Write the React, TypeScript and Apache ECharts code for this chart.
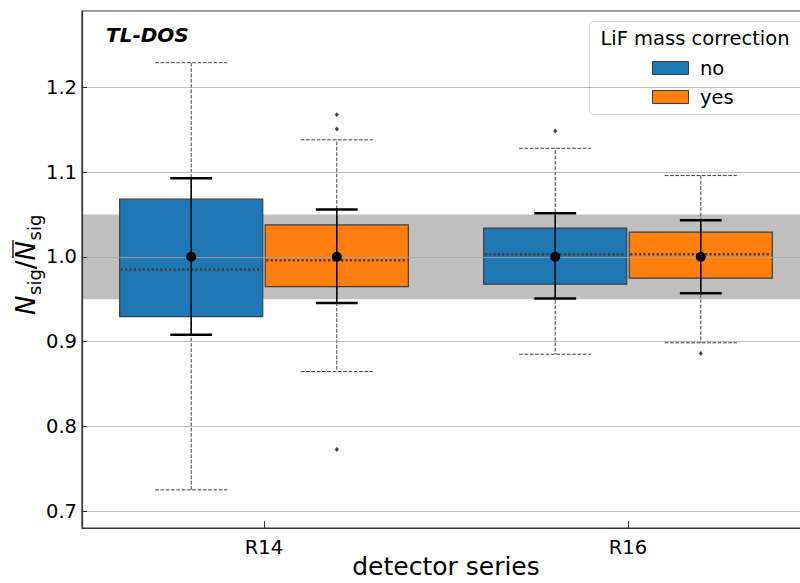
import React, { useEffect, useRef } from "react";
import * as echarts from "echarts";

// ---- data ----
const CATEGORIES = ["R14", "R16"];
const GROUPS = ["no", "yes"];
const GROUP_COLORS = ["#1f77b4", "#ff7f0e"];
// [lowerWhisker, q1, median, q3, upperWhisker]
const NO_BOX = [
  [0.725, 0.9295, 0.985, 1.068, 1.229],
  [0.885, 0.9677, 1.003, 1.0337, 1.128],
];
const YES_BOX = [
  [0.8646, 0.9649, 0.996, 1.0376, 1.138],
  [0.8985, 0.9748, 1.003, 1.029, 1.0958],
];
const NO_MEAN = [1.0, 1.0];
const NO_ERR_LOW = [0.908, 0.9507];
const NO_ERR_HIGH = [1.0927, 1.0514];
const YES_MEAN = [1.0, 1.0];
const YES_ERR_LOW = [0.9456, 0.957];
const YES_ERR_HIGH = [1.0557, 1.0432];
// [categoryIndex, value]
const NO_OUTLIERS = [[1, 1.1485]];
const YES_OUTLIERS = [
  [0, 1.1677],
  [0, 1.1508],
  [0, 0.7727],
  [1, 0.886],
];
const BAND = [0.95, 1.05];
const Y_MIN = 0.68;
const Y_MAX = 1.29;

// ---- layout (fractions of the category band) ----
const OFFSET = 0.2;
const BOX_W = 0.393;
const CAP_W = 0.198;
const ERR_CAP_W = 0.115;

const FONT = "DejaVu Sans";
const EDGE = "#3f3f3f";

function boxSeries(gi: number, boxes: number[][]) {
  return {
    type: "custom",
    name: GROUPS[gi],
    z: 2,
    data: boxes.map((b, ci) => [ci, ...b]),
    encode: { x: 0, y: [1, 2, 3, 4, 5] },
    renderItem: (params: any, api: any) => {
      const ci = api.value(0);
      const band = api.size([1, 0])[0];
      const cx = api.coord([ci, 1])[0] + (gi === 0 ? -1 : 1) * OFFSET * band;
      const y = (v: number) => api.coord([ci, v])[1];
      const lo = api.value(1), q1 = api.value(2), med = api.value(3), q3 = api.value(4), hi = api.value(5);
      const hw = (BOX_W * band) / 2;
      const cw = (CAP_W * band) / 2;
      const dash = { stroke: EDGE, lineWidth: 1, lineDash: [3.7, 1.6] };
      return {
        type: "group",
        children: [
          { type: "line", shape: { x1: cx, y1: y(q3), x2: cx, y2: y(hi) }, style: dash },
          { type: "line", shape: { x1: cx, y1: y(q1), x2: cx, y2: y(lo) }, style: dash },
          { type: "line", shape: { x1: cx - cw, y1: y(hi), x2: cx + cw, y2: y(hi) }, style: dash },
          { type: "line", shape: { x1: cx - cw, y1: y(lo), x2: cx + cw, y2: y(lo) }, style: dash },
          {
            type: "rect",
            shape: { x: cx - hw, y: y(q3), width: 2 * hw, height: y(q1) - y(q3) },
            style: { fill: GROUP_COLORS[gi], stroke: EDGE, lineWidth: 1.2 },
          },
          {
            type: "line",
            shape: { x1: cx - hw + 1, y1: y(med), x2: cx + hw - 1, y2: y(med) },
            style: { stroke: EDGE, lineWidth: 2.6, lineDash: [2.2, 2.2] },
          },
        ],
      };
    },
  };
}

function outlierSeries(gi: number, pts: number[][]) {
  return {
    type: "custom",
    name: GROUPS[gi] + "-outliers",
    z: 2,
    data: pts,
    encode: { x: 0, y: 1 },
    renderItem: (params: any, api: any) => {
      const ci = api.value(0);
      const band = api.size([1, 0])[0];
      const c = api.coord([ci, api.value(1)]);
      const cx = c[0] + (gi === 0 ? -1 : 1) * OFFSET * band;
      const cy = c[1];
      const s = 2.2;
      return {
        type: "polygon",
        shape: { points: [[cx, cy - s], [cx + s * 0.8, cy], [cx, cy + s], [cx - s * 0.8, cy]] },
        style: { fill: EDGE, stroke: EDGE, lineWidth: 0.5 },
      };
    },
  };
}

function meanSeries(gi: number, means: number[], lows: number[], highs: number[]) {
  return {
    type: "custom",
    name: GROUPS[gi] + "-mean",
    z: 5,
    data: means.map((m, ci) => [ci, m, lows[ci], highs[ci]]),
    encode: { x: 0, y: [1, 2, 3] },
    renderItem: (params: any, api: any) => {
      const ci = api.value(0);
      const band = api.size([1, 0])[0];
      const cx = api.coord([ci, 1])[0] + (gi === 0 ? -1 : 1) * OFFSET * band;
      const y = (v: number) => api.coord([ci, v])[1];
      const m = api.value(1), lo = api.value(2), hi = api.value(3);
      const ew = (ERR_CAP_W * band) / 2;
      return {
        type: "group",
        children: [
          { type: "line", shape: { x1: cx, y1: y(lo), x2: cx, y2: y(hi) }, style: { stroke: "#000", lineWidth: 1.5 } },
          { type: "line", shape: { x1: cx - ew, y1: y(lo), x2: cx + ew, y2: y(lo) }, style: { stroke: "#000", lineWidth: 2.5 } },
          { type: "line", shape: { x1: cx - ew, y1: y(hi), x2: cx + ew, y2: y(hi) }, style: { stroke: "#000", lineWidth: 2.5 } },
          { type: "circle", shape: { cx, cy: y(m), r: 5 }, style: { fill: "#000" } },
        ],
      };
    },
  };
}

const bandSeries = {
  type: "custom",
  name: "band",
  z: 1,
  silent: true,
  data: [[0, BAND[0], BAND[1]]],
  encode: { x: 0, y: [1, 2] },
  renderItem: (params: any, api: any) => {
    const cs = params.coordSys;
    const y1 = api.coord([0, api.value(2)])[1];
    const y0 = api.coord([0, api.value(1)])[1];
    return {
      type: "rect",
      shape: { x: cs.x, y: y1, width: cs.width, height: y0 - y1 },
      style: { fill: "#bfbfbf" },
    };
  },
};

function txt(text: string, x: number, y: number, extra: any = {}) {
  const { align = "left", verticalAlign = "middle", ...rest } = extra;
  return {
    type: "text",
    x,
    y,
    style: {
      text,
      fill: "#000",
      fontFamily: FONT,
      fontSize: 19.5,
      align,
      verticalAlign,
      textAlign: align,
      textVerticalAlign: verticalAlign,
      ...rest,
    },
  };
}

export default function App() {
  const ref = useRef<HTMLDivElement>(null);
  useEffect(() => {
    if (!ref.current) return;
    const chart = echarts.init(ref.current, null, { renderer: "svg" });
    const MAIN = 26;
    const SUB = 18;
    const base = -0.35 * MAIN;
    const subY = 5.5 - 0.35 * SUB;
    const option: any = {
      animation: false,
      backgroundColor: "#fff",
      grid: {
        left: 82,
        right: -10,
        top: 11,
        bottom: 55,
        containLabel: false,
        outerBoundsMode: "none",
        show: true,
        borderColor: "#333",
        borderWidth: 1.2,
        backgroundColor: "transparent",
      },
      xAxis: {
        type: "category",
        data: CATEGORIES,
        z: 3,
        boundaryGap: true,
        axisLine: { show: true, lineStyle: { color: "#333", width: 1.2 } },
        axisTick: { show: true, inside: true, alignWithLabel: true, length: 7, lineStyle: { color: "#333", width: 1 } },
        axisLabel: { fontSize: 19.5, color: "#000", fontFamily: FONT, margin: 9 },
        splitLine: { show: false },
        name: "detector series",
        nameLocation: "middle",
        nameGap: 26,
        nameMoveOverlap: false,
        nameTextStyle: { fontSize: 25, color: "#000", fontFamily: FONT },
      },
      yAxis: {
        type: "value",
        min: Y_MIN,
        max: Y_MAX,
        splitNumber: 6,
        z: 3,
        axisLine: { show: true, lineStyle: { color: "#333", width: 1.2 } },
        axisTick: { show: true, inside: true, length: 5, lineStyle: { color: "#333", width: 1 } },
        axisLabel: {
          fontSize: 19.5,
          color: "#000",
          fontFamily: FONT,
          margin: 5,
          showMinLabel: false,
          showMaxLabel: false,
          formatter: (v: number) => v.toFixed(1),
        },
        splitLine: { show: true, lineStyle: { color: "rgba(165,165,165,0.75)", width: 1.2 } },
      },
      series: [
        bandSeries,
        boxSeries(0, NO_BOX),
        boxSeries(1, YES_BOX),
        outlierSeries(0, NO_OUTLIERS),
        outlierSeries(1, YES_OUTLIERS),
        meanSeries(0, NO_MEAN, NO_ERR_LOW, NO_ERR_HIGH),
        meanSeries(1, YES_MEAN, YES_ERR_LOW, YES_ERR_HIGH),
      ],
      graphic: [
        txt("TL-DOS", 106, 35, { fontSize: 20, fontWeight: "bold", fontStyle: "italic" }),
        // legend
        {
          type: "group",
          z: 10,
          children: [
            {
              type: "rect",
              shape: { x: 589.5, y: 21.5, width: 216, height: 93, r: 4 },
              style: { fill: "rgba(255,255,255,0.85)", stroke: "#d3d3d3", lineWidth: 1 },
            },
            txt("LiF mass correction", 695, 38, { align: "center" }),
            {
              type: "rect",
              shape: { x: 652.5, y: 61.5, width: 36, height: 13 },
              style: { fill: GROUP_COLORS[0], stroke: EDGE, lineWidth: 1 },
            },
            txt(GROUPS[0], 700, 68),
            {
              type: "rect",
              shape: { x: 652.5, y: 90.5, width: 36, height: 13 },
              style: { fill: GROUP_COLORS[1], stroke: EDGE, lineWidth: 1 },
            },
            txt(GROUPS[1], 700, 97),
          ],
        },
        // y-axis label: N_sig / N̄_sig
        {
          type: "group",
          x: 35,
          y: 265,
          rotation: Math.PI / 2,
          children: [
            txt("N", -50, base, { fontSize: MAIN, fontStyle: "italic" }),
            txt("sig", -30, subY, { fontSize: SUB }),
            txt("/", -4.2, base, { fontSize: MAIN }),
            txt("N", 4.6, base, { fontSize: MAIN, fontStyle: "italic" }),
            {
              type: "line",
              shape: { x1: 7, y1: -22, x2: 25, y2: -22 },
              style: { stroke: "#000", lineWidth: 1.3 },
            },
            txt("sig", 24.6, subY, { fontSize: SUB }),
          ],
        },
      ],
    };
    chart.setOption(option);
    return () => chart.dispose();
  }, []);
  return (
    <div
      ref={ref}
      style={{ position: "fixed", left: 0, top: 0, width: 800, height: 583, background: "#fff" }}
    />
  );
}
